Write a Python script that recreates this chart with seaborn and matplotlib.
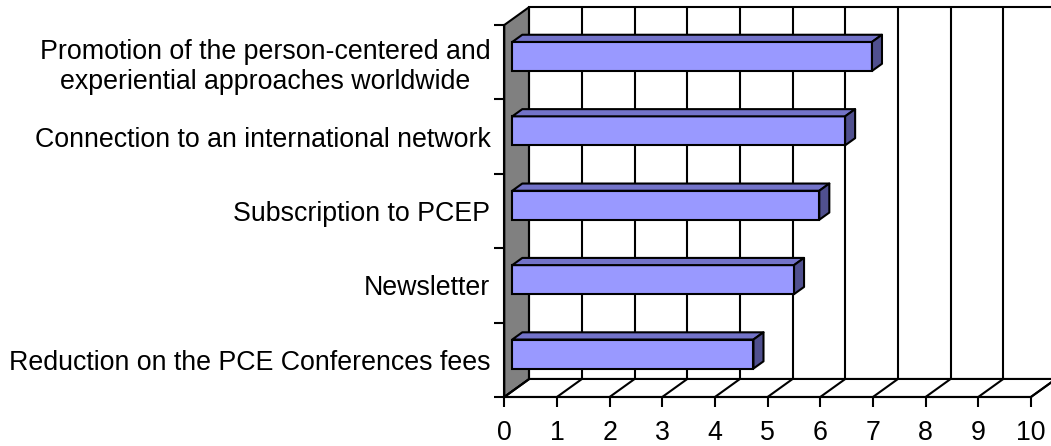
import numpy as np
import matplotlib
matplotlib.use('Agg')
import matplotlib.pyplot as plt
import matplotlib.transforms as mtransforms
from matplotlib.patches import Polygon
import seaborn as sns

# Categories from top to bottom, as in the chart
categories = [
    'Promotion of the person-centered and\nexperiential approaches worldwide',
    'Connection to an international network',
    'Subscription to PCEP',
    'Newsletter',
    'Reduction on the PCE Conferences fees',
]
scores = [6.83, 6.32, 5.83, 5.35, 4.58]
x_ticks = list(range(0, 11))

sns.set_theme(style='white')
plt.rcParams['font.family'] = ['Liberation Sans', 'DejaVu Sans']

fig = plt.figure(figsize=(10.51, 4.46), dpi=100)
ax = fig.add_axes([0.4798, 0.1099, 0.5011, 0.834])

# fake 3D depth (oblique projection), in data units
DX, DY = 0.475, 0.242
F0, F1 = 0.32, 0.72   # front / back depth of the bars
LW = 1.5

sns.barplot(x=scores, y=categories, orient='h', color='#9999FF', saturation=1,
            width=0.39, edgecolor='black', linewidth=LW, ax=ax, zorder=3)

xmax = x_ticks[-1]
n = len(categories)
ax.set_xlim(0, xmax)
ax.set_ylim(n - 0.5, -0.5)
ytop, ybot = -0.5, n - 0.5

# left side wall (grey)
ax.add_patch(Polygon([(0, ybot), (0, ytop), (DX, ytop - DY), (DX, ybot - DY)],
                     closed=True, facecolor='#808080', edgecolor='black', lw=LW,
                     clip_on=False, zorder=1))
# back wall
ax.add_patch(Polygon([(DX, ytop - DY), (xmax + DX, ytop - DY), (xmax + DX, ybot - DY), (DX, ybot - DY)],
                     closed=True, facecolor='white', edgecolor='black', lw=LW,
                     clip_on=False, zorder=1))
# floor
ax.add_patch(Polygon([(0, ybot), (xmax, ybot), (xmax + DX, ybot - DY), (DX, ybot - DY)],
                     closed=True, facecolor='white', edgecolor='black', lw=LW,
                     clip_on=False, zorder=1))
for k in x_ticks:
    ax.plot([k + DX, k + DX], [ybot - DY, ytop - DY], color='black', lw=LW,
            clip_on=False, zorder=1.5, solid_capstyle='butt')
    ax.plot([k, k + DX], [ybot, ybot - DY], color='black', lw=LW,
            clip_on=False, zorder=1.5)

# shift the front faces back and add top / side faces
shift = mtransforms.Affine2D().translate(F0 * DX, -F0 * DY) + ax.transData
for bar in ax.containers[0]:
    x0, y0 = bar.get_x(), bar.get_y()
    w, h = bar.get_width(), bar.get_height()
    yt, yb = min(y0, y0 + h), max(y0, y0 + h)
    bar.set_transform(shift)
    bar.set_clip_on(False)
    top = [(x0 + F0 * DX, yt - F0 * DY), (x0 + w + F0 * DX, yt - F0 * DY),
           (x0 + w + F1 * DX, yt - F1 * DY), (x0 + F1 * DX, yt - F1 * DY)]
    side = [(x0 + w + F0 * DX, yt - F0 * DY), (x0 + w + F1 * DX, yt - F1 * DY),
            (x0 + w + F1 * DX, yb - F1 * DY), (x0 + w + F0 * DX, yb - F0 * DY)]
    ax.add_patch(Polygon(top, closed=True, facecolor='#7373C9', edgecolor='black',
                         lw=LW, clip_on=False, zorder=3, joinstyle='round'))
    ax.add_patch(Polygon(side, closed=True, facecolor='#50508F', edgecolor='black',
                         lw=LW, clip_on=False, zorder=3, joinstyle='round'))

# axes, ticks and labels
for s in ['top', 'right']:
    ax.spines[s].set_visible(False)
for s in ['left', 'bottom']:
    ax.spines[s].set_color('black')
    ax.spines[s].set_linewidth(LW)
    ax.spines[s].set_zorder(2)

ax.set_xticks(x_ticks)
ax.set_xticklabels([str(t) for t in x_ticks])
ax.tick_params(axis='x', which='major', bottom=True, length=7.5, width=LW,
               color='black', labelsize=19.3, labelcolor='black', pad=9)

ax.set_yticks(np.arange(-0.5, n, 1))
ax.set_yticklabels([])
ax.set_yticks(np.arange(n), minor=True)
ax.set_yticklabels(categories, minor=True)
ax.tick_params(axis='y', which='major', left=True, length=7.5, width=LW, color='black')
ax.tick_params(axis='y', which='minor', left=True, length=0, labelsize=19.3,
               labelcolor='black', pad=10)
for lab in ax.get_yticklabels(minor=True):
    lab.set_multialignment('center')

ax.set_xlabel('')
ax.set_ylabel('')

fig.savefig('out.png', dpi=100)
